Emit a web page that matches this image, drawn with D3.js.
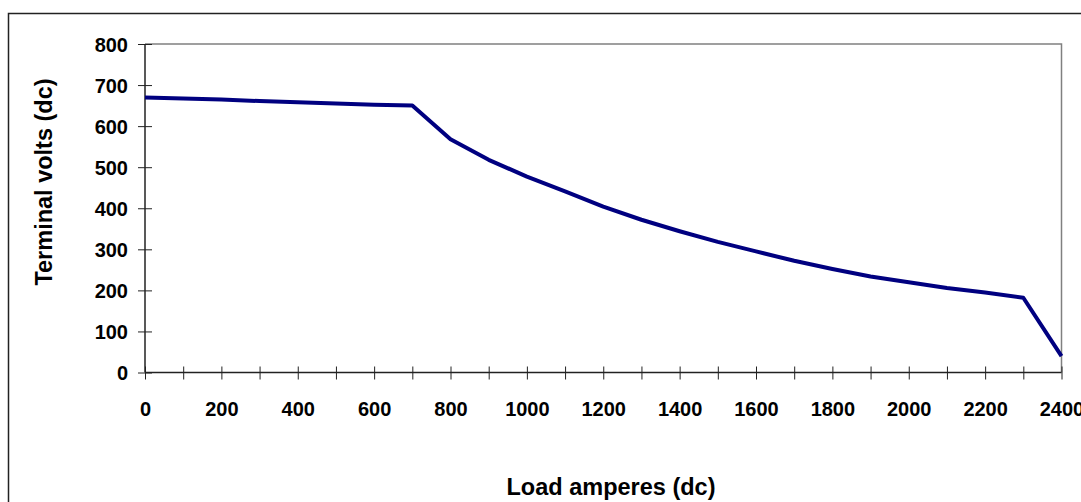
<!DOCTYPE html>
<html>
<head>
<meta charset="utf-8">
<script src="https://cdn.jsdelivr.net/npm/d3@7"></script>
<style>
  body { margin: 0; background: #fff; }
  svg { display: block; font-family: "Liberation Sans", Arial, sans-serif; font-weight: bold; }
</style>
</head>
<body>
<svg id="chart"></svg>
<script>
// load amperes (dc) and terminal volts (dc)
var amps = [0, 100, 200, 300, 400, 500, 600, 700, 800, 900, 1000, 1100, 1200,
            1300, 1400, 1500, 1600, 1700, 1800, 1900, 2000, 2100, 2200, 2300, 2400]
var volts = [670, 667, 665, 661, 658, 655, 652, 650, 568, 518, 477, 441, 404,
             372, 344, 318, 295, 272, 252, 234, 220, 206, 195, 182, 40]
var xTicks = d3.range(0, 2401, 100)
var yTicks = d3.range(0, 801, 100)

var width = 1081, height = 502
var plotLeft = 145, plotRight = 1061.5, plotTop = 44, plotBottom = 372.5

var svg = d3.select('#chart')
    .attr('width', width)
    .attr('height', height)

// outer chart border (runs off the picture at right and bottom)
svg.append('rect')
    .attr('x', 8.5).attr('y', 13.5)
    .attr('width', 1100).attr('height', 600)
    .attr('fill', 'none')
    .attr('stroke', '#222')
    .attr('stroke-width', 1.5)

var x = d3.scaleLinear().domain([0, 2400]).range([plotLeft, plotRight])
var y = d3.scaleLinear().domain([0, 800]).range([plotBottom, plotTop])

// plot area frame top/right in grey
svg.append('path')
    .attr('d', 'M' + plotLeft + ',' + plotTop + 'H' + plotRight + 'V' + plotBottom)
    .attr('fill', 'none')
    .attr('stroke', '#808080')
    .attr('stroke-width', 1.5)

// y axis
var yAxis = svg.append('g')
    .attr('transform', 'translate(' + plotLeft + ',0)')
    .call(d3.axisLeft(y).tickValues(yTicks).tickSize(7))
yAxis.select('.domain').remove()
yAxis.selectAll('.tick line').attr('x2', 7).attr('x1', -7).attr('stroke', '#222')
yAxis.selectAll('.tick text')
    .attr('font-size', 20).attr('font-family', '"Liberation Sans", Arial, sans-serif')
    .attr('font-weight', 'bold').attr('fill', '#000')
    .attr('x', -17).attr('dy', '0.36em')

// x axis
var xAxis = svg.append('g')
    .attr('transform', 'translate(0,' + plotBottom + ')')
    .call(d3.axisBottom(x).tickValues(xTicks)
        .tickFormat(function(d) { return d % 200 === 0 ? d : '' })
        .tickSize(7))
xAxis.select('.domain').remove()
xAxis.selectAll('.tick line').attr('y1', -6).attr('y2', 7).attr('stroke', '#222')
xAxis.selectAll('.tick text')
    .attr('font-size', 20).attr('font-family', '"Liberation Sans", Arial, sans-serif')
    .attr('font-weight', 'bold').attr('fill', '#000')
    .attr('y', 43).attr('dy', 0)

// axis lines
svg.append('line')
    .attr('x1', plotLeft).attr('x2', plotLeft).attr('y1', plotTop).attr('y2', plotBottom)
    .attr('stroke', '#222').attr('stroke-width', 1.5)
svg.append('line')
    .attr('x1', plotLeft).attr('x2', plotRight).attr('y1', plotBottom).attr('y2', plotBottom)
    .attr('stroke', '#222').attr('stroke-width', 1.5)

// the curve
var line = d3.line()
    .x(function(d, i) { return x(amps[i]) })
    .y(function(d) { return y(d) })

svg.append('path')
    .datum(volts)
    .attr('d', line)
    .attr('fill', 'none')
    .attr('stroke', '#000080')
    .attr('stroke-width', 4)
    .attr('stroke-linejoin', 'round')

// axis titles
svg.append('text')
    .attr('x', 611).attr('y', 495)
    .attr('text-anchor', 'middle')
    .attr('font-size', 23.5)
    .text('Load amperes (dc)')

svg.append('text')
    .attr('transform', 'translate(52,182) rotate(-90)')
    .attr('text-anchor', 'middle')
    .attr('font-size', 23.5)
    .text('Terminal volts (dc)')
</script>
</body>
</html>
